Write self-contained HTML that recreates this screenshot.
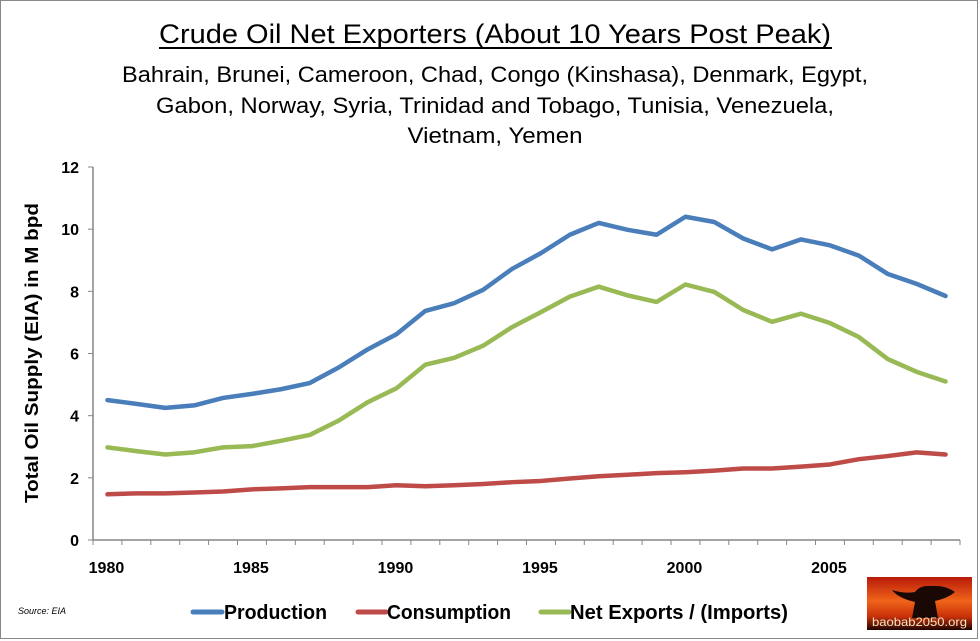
<!DOCTYPE html>
<html><head><meta charset="utf-8"><style>
html,body{margin:0;padding:0;background:#fff}
svg{display:block;font-family:"Liberation Sans",sans-serif}
</style></head><body>
<svg width="980" height="641" viewBox="0 0 980 641">
<rect x="0.5" y="0.5" width="977" height="638" fill="#fff" stroke="#888"/>
<text x="495" y="43" text-anchor="middle" font-size="27" textLength="672" lengthAdjust="spacingAndGlyphs">Crude Oil Net Exporters (About 10 Years Post Peak)</text>
<line x1="159" y1="48" x2="832" y2="48" stroke="#000" stroke-width="2"/>
<g font-size="22" text-anchor="middle">
<text x="495" y="82" textLength="746" lengthAdjust="spacingAndGlyphs">Bahrain, Brunei, Cameroon, Chad, Congo (Kinshasa), Denmark, Egypt,</text>
<text x="495" y="113" textLength="678" lengthAdjust="spacingAndGlyphs">Gabon, Norway, Syria, Trinidad and Tobago, Tunisia, Venezuela,</text>
<text x="495" y="143" textLength="175" lengthAdjust="spacingAndGlyphs">Vietnam, Yemen</text>
</g>
<text transform="translate(38,353) rotate(-90)" text-anchor="middle" font-size="18" font-weight="bold" textLength="300" lengthAdjust="spacingAndGlyphs">Total Oil Supply (EIA)  in M bpd</text>
<g id="axes"></g>
<g id="series"></g>
<text x="18" y="614" font-size="9" font-style="italic">Source: EIA</text>
<g font-size="20" font-weight="bold">
<g><line x1="193" y1="612" x2="222" y2="612" stroke="#4a7ebb" stroke-width="5" stroke-linecap="round"/><text x="224" y="619" textLength="103" lengthAdjust="spacingAndGlyphs">Production</text></g>
<g><line x1="358" y1="612" x2="386" y2="612" stroke="#be4b48" stroke-width="5" stroke-linecap="round"/><text x="387" y="619" textLength="124" lengthAdjust="spacingAndGlyphs">Consumption</text></g>
<g><line x1="541" y1="612" x2="569" y2="612" stroke="#98b954" stroke-width="5" stroke-linecap="round"/><text x="570" y="619" textLength="218" lengthAdjust="spacingAndGlyphs">Net Exports / (Imports)</text></g>
</g>
<defs><linearGradient id="lg" x1="0" y1="0" x2="0" y2="1"><stop offset="0" stop-color="#b81a0a"/><stop offset="0.45" stop-color="#f0641a"/><stop offset="0.75" stop-color="#c8300a"/><stop offset="1" stop-color="#200500"/></linearGradient></defs>
<g>
<rect x="867" y="577" width="105" height="53" fill="url(#lg)"/>
<path d="M912 618 L915 602 Q898 598 892 590 Q905 594 915 592 Q920 585 932 586 Q945 585 955 592 Q948 598 935 601 L938 618 Z" fill="#1a0805"/>
<text x="872" y="626" font-size="12" fill="#f5e6c0" textLength="95" lengthAdjust="spacingAndGlyphs">baobab2050.org</text>
</g>
</svg>
<script>
const years=[1980,1981,1982,1983,1984,1985,1986,1987,1988,1989,1990,1991,1992,1993,1994,1995,1996,1997,1998,1999,2000,2001,2002,2003,2004,2005,2006,2007,2008,2009];
const production=[4.5,4.38,4.25,4.33,4.57,4.7,4.85,5.05,5.55,6.13,6.62,7.37,7.62,8.05,8.72,9.23,9.82,10.2,9.98,9.82,10.4,10.23,9.7,9.35,9.67,9.48,9.15,8.56,8.24,7.85];
const consumption=[1.47,1.5,1.5,1.53,1.56,1.63,1.66,1.7,1.7,1.7,1.76,1.73,1.76,1.8,1.86,1.9,1.98,2.05,2.1,2.15,2.18,2.23,2.3,2.3,2.36,2.43,2.6,2.7,2.82,2.75];
const netExports=[2.98,2.86,2.75,2.82,2.98,3.02,3.19,3.38,3.84,4.43,4.88,5.64,5.86,6.25,6.85,7.33,7.83,8.15,7.87,7.66,8.22,7.98,7.4,7.02,7.28,6.98,6.53,5.82,5.41,5.1];
const yTicks=[0,2,4,6,8,10,12];
const xLabels=["1980","1985","1990","1995","2000","2005"];
const NS="http://www.w3.org/2000/svg";
const X0=93,CW=28.9,Y0=540,YMAX=12,PH=373;
function xs(i){return X0+CW*(i+0.5);}
function ys(v){return Y0-v/YMAX*PH;}
function mk(t,a,p){const e=document.createElementNS(NS,t);for(const k in a)e.setAttribute(k,a[k]);p.appendChild(e);return e;}
const ax=document.getElementById('axes');
const ya=mk('line',{x1:X0,y1:ys(12),x2:X0,y2:Y0,stroke:'#868686','stroke-width':1.5},ax);


const xa=mk('line',{x1:X0,y1:Y0,x2:X0+CW*years.length,y2:Y0,stroke:'#868686','stroke-width':1.5},ax);


yTicks.forEach(v=>{
 mk('line',{x1:X0-5,y1:ys(v),x2:X0,y2:ys(v),stroke:'#868686'},ax);
 const t=mk('text',{x:X0-14,y:ys(v)+6,'text-anchor':'end','font-size':16,'font-weight':'bold'},ax);
 t.textContent=v;
 
 
});
for(let i=0;i<=years.length;i++)mk('line',{x1:X0+CW*i,y1:Y0,x2:X0+CW*i,y2:Y0+5,stroke:'#868686'},ax);
xLabels.forEach(l=>{
 const i=years.indexOf(+l);
 const t=mk('text',{x:xs(i)-1,y:Y0+33,'text-anchor':'middle','font-size':16,'font-weight':'bold'},ax);
 t.textContent=l;
 
 
});
const sg=document.getElementById('series');
[[production,'#4a7ebb','production-line'],[consumption,'#be4b48','consumption-line'],[netExports,'#98b954','net-exports-line']].forEach(([d,c,n])=>{
 const p=mk('polyline',{points:d.map((v,i)=>xs(i)+','+ys(v)).join(' '),fill:'none',stroke:c,'stroke-width':4.5,'stroke-linejoin':'round','stroke-linecap':'round'},sg);
 
 
});
</script>
</body></html>
